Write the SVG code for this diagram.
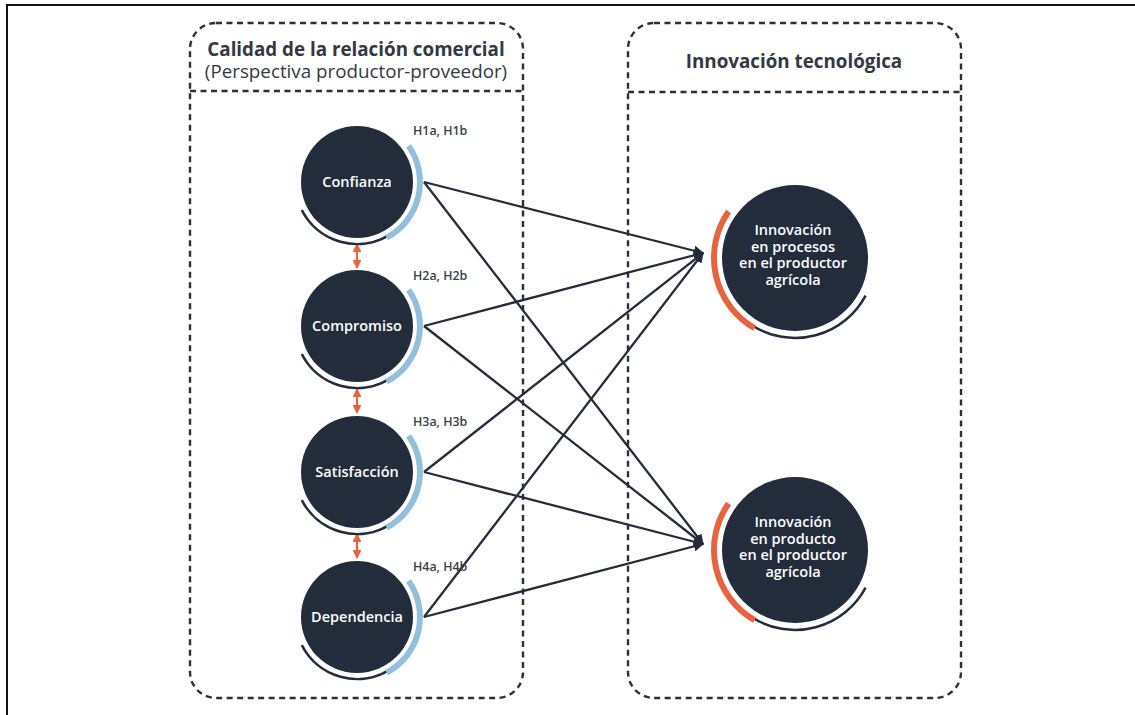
<svg xmlns="http://www.w3.org/2000/svg" width="1135" height="715" viewBox="0 0 1135 715">
  <defs>
    <style>
      .frame { fill: none; stroke: #111; stroke-width: 2; }
      .panel { fill: none; stroke: #2b2f36; stroke-width: 2.4; stroke-dasharray: 6 4.5; }
      .head { font-family: "Open Sans", "Liberation Sans", sans-serif; font-size: 18.8px; fill: #333842; text-anchor: middle; }
      .bold { font-weight: 700; }
      .regular { font-weight: 400; }
      .disc { fill: #222c3b; }
      .label { font-family: "Open Sans", "Liberation Sans", sans-serif; font-weight: 600; font-size: 14.5px; fill: #ffffff; text-anchor: middle; }
      .hyp { font-family: "Open Sans", "Liberation Sans", sans-serif; font-weight: 600; font-size: 12.4px; fill: #3a3f48; }
      .ring-dark { fill: none; stroke: #222c3b; stroke-width: 2.5; }
      .ring-blue { fill: none; stroke: #93bfdb; stroke-width: 6; }
      .ring-orange { fill: none; stroke: #e8643f; stroke-width: 6; }
      .link { fill: none; stroke: #232c3a; stroke-width: 2.3; marker-end: url(#head); }
      .corr { fill: none; stroke: #e8643f; stroke-width: 2.2; marker-start: url(#ohead-s); marker-end: url(#ohead); }
    </style>
    <marker id="head" viewBox="0 0 10 10" refX="9" refY="5" markerWidth="4.5" markerHeight="4.5" orient="auto" markerUnits="strokeWidth">
      <path d="M0,0 L10,5 L0,10 z" fill="#232c3a"/>
    </marker>
    <marker id="ohead" viewBox="0 0 10 10" refX="9" refY="5" markerWidth="4" markerHeight="4" orient="auto" markerUnits="strokeWidth">
      <path d="M0,0 L10,5 L0,10 z" fill="#e8643f"/>
    </marker>
    <marker id="ohead-s" viewBox="0 0 10 10" refX="1" refY="5" markerWidth="4" markerHeight="4" orient="auto" markerUnits="strokeWidth">
      <path d="M10,0 L0,5 L10,10 z" fill="#e8643f"/>
    </marker>
    <!-- decorative rings around the construct discs (local coordinates) -->
    <path id="left-dark" class="ring-dark" d="M 32.9 52.6 A 62 62 0 0 1 -55.2 28.1"/>
    <path id="left-blue" class="ring-blue" d="M 51.6 -36.1 A 63 63 0 0 1 29.6 55.6"/>
    <path id="right-dark" class="ring-dark" d="M 70.6 37.6 A 80 80 0 0 1 -42.4 67.8"/>
    <path id="right-orange" class="ring-orange" d="M -40.5 70.1 A 81 81 0 0 1 -66.4 -46.5"/>
  </defs>

  <rect width="1135" height="715" fill="#ffffff"/>
  <path class="frame" d="M 7 715 L 7 5 L 1135 5"/>

  <!-- panels -->
  <g id="panel-calidad">
    <rect class="panel" x="190" y="23" width="333" height="675" rx="26" ry="26"/>
    <line class="panel" x1="190" y1="91" x2="523" y2="91"/>
    <text class="head"><tspan class="bold" x="356" y="56">Calidad de la relación comercial</tspan><tspan class="regular" x="356" y="78">(Perspectiva productor-proveedor)</tspan></text>
  </g>
  <g id="panel-innovacion">
    <rect class="panel" x="628" y="23" width="333" height="675" rx="26" ry="26"/>
    <line class="panel" x1="628" y1="92" x2="961" y2="92"/>
    <text class="head bold" x="794" y="68">Innovación tecnológica</text>
  </g>

  <!-- connectors -->
  <g id="connectors">
    <line class="link" x1="424" y1="182" x2="703" y2="253"/>
    <line class="link" x1="424" y1="182" x2="703" y2="544"/>
    <line class="link" x1="424" y1="326" x2="703" y2="253"/>
    <line class="link" x1="424" y1="326" x2="703" y2="544"/>
    <line class="link" x1="424" y1="472" x2="703" y2="253"/>
    <line class="link" x1="424" y1="472" x2="703" y2="544"/>
    <line class="link" x1="424" y1="617" x2="703" y2="253"/>
    <line class="link" x1="424" y1="617" x2="703" y2="544"/>
    <line class="corr" x1="357" y1="244" x2="357" y2="268"/>
    <line class="corr" x1="357" y1="389" x2="357" y2="413"/>
    <line class="corr" x1="357" y1="534" x2="357" y2="558"/>
  </g>

  <!-- constructs: commercial relationship quality -->
  <g id="confianza">
    <g transform="translate(357 182)">
      <circle class="disc" r="56"/>
      <use href="#left-dark"/>
      <use href="#left-blue"/>
      <text class="label" y="5">Confianza</text>
    </g>
    <text class="hyp" x="413" y="135">H1a, H1b</text>
  </g>
  <g id="compromiso">
    <g transform="translate(357 326)">
      <circle class="disc" r="56"/>
      <use href="#left-dark"/>
      <use href="#left-blue"/>
      <text class="label" y="5">Compromiso</text>
    </g>
    <text class="hyp" x="413" y="280">H2a, H2b</text>
  </g>
  <g id="satisfaccion">
    <g transform="translate(357 472)">
      <circle class="disc" r="56"/>
      <use href="#left-dark"/>
      <use href="#left-blue"/>
      <text class="label" y="5">Satisfacción</text>
    </g>
    <text class="hyp" x="413" y="426">H3a, H3b</text>
  </g>
  <g id="dependencia">
    <g transform="translate(357 617)">
      <circle class="disc" r="56"/>
      <use href="#left-dark"/>
      <use href="#left-blue"/>
      <text class="label" y="5">Dependencia</text>
    </g>
    <text class="hyp" x="413" y="571">H4a, H4b</text>
  </g>

  <!-- constructs: technological innovation -->
  <g id="innovacion-procesos">
    <g transform="translate(795 258)">
      <circle class="disc" r="73"/>
      <use href="#right-dark"/>
      <use href="#right-orange"/>
      <text class="label"><tspan x="-2" y="-23">Innovación</tspan><tspan x="-2" y="-6.5">en procesos</tspan><tspan x="-2" y="10">en el productor</tspan><tspan x="-2" y="26.5">agrícola</tspan></text>
    </g>
  </g>
  <g id="innovacion-producto">
    <g transform="translate(795 550)">
      <circle class="disc" r="73"/>
      <use href="#right-dark"/>
      <use href="#right-orange"/>
      <text class="label"><tspan x="-2" y="-23">Innovación</tspan><tspan x="-2" y="-6.5">en producto</tspan><tspan x="-2" y="10">en el productor</tspan><tspan x="-2" y="26.5">agrícola</tspan></text>
    </g>
  </g>
</svg>
